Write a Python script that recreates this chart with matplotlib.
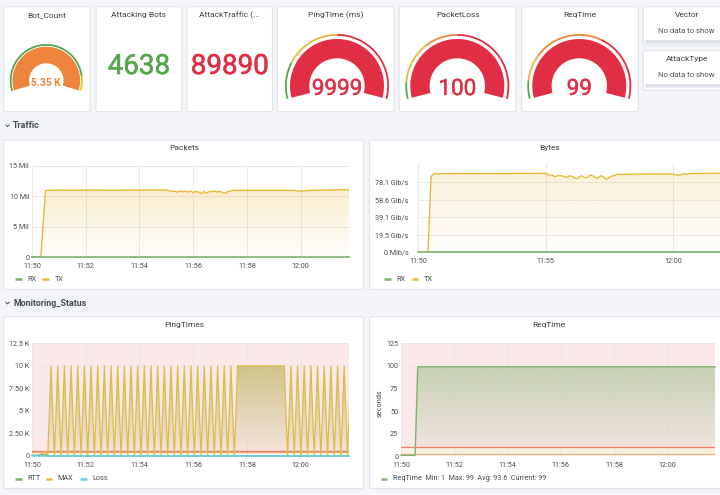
import numpy as np
import matplotlib
matplotlib.use('Agg')
import matplotlib.pyplot as plt
import matplotlib.patheffects as pe
from matplotlib.patches import Polygon, FancyBboxPatch
from matplotlib.colors import to_rgb

plt.rcParams['font.family'] = ['Roboto', 'DejaVu Sans']

# ---------------- data ----------------
top_titles = ['Bot_Count', 'Attacking Bots', 'AttackTraffic (...', 'PingTime (ms)', 'PacketLoss', 'ReqTime']
bot_count_label = '5.35 K'
attacking_bots = '4638'
attack_traffic = '89890'
gauge_labels = ['9999', '100', '99']
side_titles = ['Vector', 'AttackType']
no_data = 'No data to show'

# gauge threshold steps (fraction of gauge range) and colours
bot_steps = [0.89]
bot_step_colors = ['#56a64b', '#f2cc0c']
gauge_steps = [[0.2, 0.5], [0.09, 0.32, 0.5], [0.1, 0.24, 0.62]]
gauge_step_colors = [['#56a64b', '#eab839', '#e02f44'],
                     ['#56a64b', '#eab839', '#ef843c', '#e02f44'],
                     ['#56a64b', '#eab839', '#ef843c', '#e02f44']]

time_ticks = [0, 2, 4, 6, 8, 10]
time_labels = ['11:50', '11:52', '11:54', '11:56', '11:58', '12:00']
bytes_ticks = [0, 5, 10]
bytes_labels = ['11:50', '11:55', '12:00']

# Packets (minutes after 11:50, millions)
packets_t = [0, 0.33, 0.5, 0.6, 1.0, 1.5, 2.0, 2.5, 3.0, 3.5, 4.0, 4.5, 5.0,
             5.1, 5.2, 5.3, 5.4, 5.5, 5.6, 5.7, 5.8, 5.9, 6.0, 6.1, 6.2, 6.3,
             6.4, 6.5, 6.6, 6.7, 6.8, 6.9, 7.0, 7.1, 7.2, 7.3, 7.4, 7.5, 7.6,
             8.0, 8.5, 9.0, 9.5, 9.8, 10.0, 10.2, 10.5, 11.0, 11.5, 11.8]
packets_tx = [0, 0, 10.9, 11.0, 11.02, 11.0, 11.03, 11.02, 11.0, 11.02, 11.03, 11.03, 11.05,
              10.9, 10.8, 10.85, 10.7, 10.85, 10.75, 10.9, 10.7, 10.85, 10.65, 10.8, 10.7, 10.45,
              10.8, 10.5, 10.85, 10.75, 10.9, 10.7, 10.85, 10.6, 10.5, 10.8, 10.9, 11.0, 11.0,
              11.0, 10.98, 11.0, 11.0, 10.95, 10.85, 10.95, 11.0, 11.02, 11.08, 11.05]
packets_rx_t = [0, 11.8]
packets_rx = [0, 0]
packets_yticks = [0, 5, 10, 15]
packets_ylabels = ['0', '5 Mil', '10 Mil', '15 Mil']

# Bytes (Gib/s)
bytes_t = [0, 0.38, 0.5, 0.6, 1.0, 2.0, 3.0, 4.0, 5.0,
           5.05, 5.16, 5.26, 5.36, 5.49, 5.62, 5.72, 5.82, 5.92, 6.01,
           6.11, 6.21, 6.31, 6.41, 6.5, 6.6, 6.7, 6.8, 6.9, 7.0,
           7.1, 7.2, 7.3, 7.39, 7.49, 7.59, 7.69, 7.79,
           8.0, 9.0, 10.0, 10.2, 10.4, 11.0, 11.84]
bytes_tx = [0, 0, 84.0, 87.0, 87.2, 87.4, 87.3, 87.5, 87.6,
            87.3, 85.0, 85.6, 83.9, 85.2, 85.0, 84.2, 83.2, 84.6, 84.7,
            83.0, 81.4, 83.5, 85.0, 83.4, 82.5, 84.8, 85.8, 83.6, 81.8,
            83.9, 85.0, 82.8, 81.0, 83.2, 84.7, 85.0, 86.5,
            86.6, 86.8, 86.9, 85.4, 87.0, 87.5, 87.7]
bytes_rx_t = [0, 11.84]
bytes_rx = [0, 0]
bytes_yticks = [0, 19.53, 39.06, 58.59, 78.125]
bytes_ylabels = ['0 Mib/s', '19.5 Gib/s', '39.1 Gib/s', '58.6 Gib/s', '78.1 Gib/s']

# PingTimes (ms), MAX sampled every 0.124 min from 11:50:05
ping_start = 0.09
ping_step = 0.124
ping_max = [0, 0, 200, 500, 0,
            9999, 0, 9999, 0, 9999, 0, 9999, 0, 9999, 0, 9999, 0, 9999, 0, 9999, 0,
            9999, 0, 9999, 0, 9999, 0, 9999, 0, 9999, 0, 9999, 0, 9999, 0, 9999, 0,
            9999, 0, 9999, 0, 9999, 0, 9999, 0, 9999, 0, 9999, 0, 9999, 0, 9999, 0,
            9999, 0, 9999, 0, 9999, 0, 9999, 0,
            9999, 9999, 9999, 9999, 9999, 9999, 9999, 9999, 9999, 9999, 9999, 9999, 9999, 9999, 9999,
            0,
            9999, 0, 9999, 0, 9999, 0, 9999, 0, 9999, 0, 9999, 0, 9999, 0, 9999, 0, 9999, 0, 9999]
ping_rtt_t = [0, 0.2, 0.45, 0.6, 11.8]
ping_rtt = [60, 80, 150, 0, 0]
ping_loss_t = [0, 11.8]
ping_loss = [0, 0]
ping_yticks = [0, 2500, 5000, 7500, 10000, 12500]
ping_ylabels = ['0', '2.50 K', '5 K', '7.50 K', '10 K', '12.5 K']
ping_crit = 500
ping_warn = 420

# ReqTime (seconds)
req_t = [0, 0.53, 0.63, 11.8]
req_v = [1, 1, 99, 99]
req_yticks = [0, 25, 50, 75, 100, 125]
req_crit = 10
req_warn = 3
req_legend = 'ReqTime  Min: 1  Max: 99  Avg: 93.6  Current: 99'

# ---------------- style ----------------
W, H = 720, 495
BG = '#f4f5f8'
TXT = '#464c54'
TITLE_C = '#3b3f45'
GREEN = '#7eb26d'
YELLOW = '#eab839'
CYAN = '#6ed0e0'
TITLE_FS = 6.0
TICK_FS = 5.2

fig = plt.figure(figsize=(W / 100, H / 100), dpi=100, facecolor=BG)
bg = fig.add_axes([0, 0, 1, 1])
bg.set_xlim(0, W)
bg.set_ylim(H, 0)
bg.axis('off')


def heavy(color, w):
    # thicken regular Roboto a little (medium weight look)
    return [pe.withStroke(linewidth=w, foreground=color)]


def panel(x0, y0, x1, y1):
    bg.add_patch(FancyBboxPatch((x0, y0), x1 - x0, y1 - y0,
                                boxstyle='round,pad=0,rounding_size=2',
                                fc='white', ec='#e1e4e9', lw=0.8))


def arc(cx, cy, r0, r1, a0, a1, color):
    a = np.radians(np.linspace(a0, a1, 90))
    outer = np.column_stack([cx + r1 * np.cos(a), cy - r1 * np.sin(a)])
    inner = np.column_stack([cx + r0 * np.cos(a[::-1]), cy - r0 * np.sin(a[::-1])])
    bg.add_patch(Polygon(np.vstack([outer, inner]), closed=True, fc=color, ec='none'))


def gauge(cx, cy, ring, band, half, steps, colors, band_color):
    a_start = 180 + half
    span = 180 + 2 * half
    edges = [0] + steps + [1]
    for i, c in enumerate(colors):
        arc(cx, cy, ring[0], ring[1], a_start - span * edges[i], a_start - span * edges[i + 1], c)
    arc(cx, cy, band[0], band[1], a_start, a_start - span, band_color)


def legend_item(x, y, color, label):
    bg.plot([x, x + 6.7], [y, y], color=color, lw=1.8, solid_capstyle='butt')
    bg.text(x + 12, y, label, ha='left', va='center', fontsize=TICK_FS, color=TXT)


def title(x, y, t):
    bg.text(x, y, t, ha='center', va='center', fontsize=TITLE_FS, color=TITLE_C)


def chart_axes(x0, y0, x1, y1):
    return fig.add_axes([x0 / W, 1 - y1 / H, (x1 - x0) / W, (y1 - y0) / H])


def style(ax, xlim, ylim, xticks, xlabels, yticks, ylabels, ypad=2):
    ax.set_facecolor('none')
    ax.set_xlim(*xlim)
    ax.set_ylim(*ylim)
    ax.set_xticks(xticks)
    ax.set_xticklabels(xlabels)
    ax.set_yticks(yticks)
    ax.set_yticklabels(ylabels)
    for s in ax.spines.values():
        s.set_visible(False)
    ax.grid(True, color='#e9e9e9', lw=0.7)
    ax.set_axisbelow(True)
    ax.tick_params(axis='x', length=0, labelsize=TICK_FS, colors=TXT, pad=4)
    ax.tick_params(axis='y', length=0, labelsize=TICK_FS, colors=TXT, pad=ypad)


def grad_fill(ax, x, y, color, a_top, a_bot, ytop, z=1):
    x = np.asarray(x, float)
    y = np.asarray(y, float)
    verts = np.vstack([np.column_stack([x, y]), [[x[-1], 0], [x[0], 0]]])
    clip = Polygon(verts, closed=True, fc='none', ec='none')
    ax.add_patch(clip)
    img = np.zeros((100, 1, 4))
    img[:, :, :3] = to_rgb(color)
    img[:, 0, 3] = np.linspace(a_bot, a_top, 100)
    im = ax.imshow(img, aspect='auto', origin='lower', extent=[x.min(), x.max(), 0, ytop], zorder=z)
    im.set_clip_path(clip)


# ---------------- top row ----------------
panel(3.7, 6.7, 90, 111.7)
panel(96, 6.7, 181.7, 111.7)
panel(187, 6.7, 272.5, 111.7)
panel(277.3, 6.7, 394, 111.7)
panel(399.3, 6.7, 516, 111.7)
panel(521.7, 6.7, 638.3, 111.7)
panel(643.3, 6.7, 735, 45)
panel(643.3, 50.7, 735, 90)

title_x = [46.8, 138.8, 229.7, 335.7, 457.7, 580]
for tx, t in zip(title_x, top_titles):
    title(tx, 15, t)

gauge(46.3, 80.5, (34.7, 36.5), (17.2, 33.8), 17, bot_steps, bot_step_colors, '#ef843c')
bg.text(46.3, 82.5, bot_count_label, ha='center', va='center', fontsize=7.4,
        color='#ef843c', fontweight='bold')

bg.text(138.8, 66.5, attacking_bots, ha='center', va='center', fontsize=20,
        color='#56a64b', path_effects=heavy('#56a64b', 0.4))
bg.text(229.7, 66.5, attack_traffic, ha='center', va='center', fontsize=20,
        color='#e02f44', path_effects=heavy('#e02f44', 0.4))

gauge_cx = [337, 457.3, 579.3]
for cx, lab, st, cols in zip(gauge_cx, gauge_labels, gauge_steps, gauge_step_colors):
    gauge(cx, 86, (50.2, 52), (27.7, 47), 14.5, st, cols, '#e02f44')
    bg.text(cx, 89.5, lab, ha='center', va='center', fontsize=16.2, color='#e02f44',
            path_effects=heavy('#e02f44', 0.3))

for y0, t in zip([6.7, 50.7], side_titles):
    title(686.7, y0 + 8.5, t)
    bg.text(686.7, y0 + 24.5, no_data, ha='center', va='center', fontsize=5.6, color='#52545c')
    bg.add_patch(FancyBboxPatch((645, y0 + 33.3), 90, 3.5, boxstyle='round,pad=0,rounding_size=1.5',
                                fc='#dde0e6', ec='none'))

# ---------------- section headers ----------------
for y, t in [(126, 'Traffic'), (303.3, 'Monitoring_Status')]:
    bg.plot([6, 7.5, 9], [y - 1, y + 0.6, y - 1], color=TXT, lw=0.7)
    bg.text(13, y, t, ha='left', va='center', fontsize=6.4, color=TXT, fontweight='bold')

# ---------------- Traffic ----------------
panel(3.7, 140, 363.5, 289.5)
panel(369.5, 140, 735, 289.5)
title(184, 148, 'Packets')
title(549.3, 148, 'Bytes')

ax1 = chart_axes(32, 166, 349, 257)
grad_fill(ax1, packets_t, packets_tx, YELLOW, 0.32, 0.02, 15)
ax1.plot(packets_t, packets_tx, color=YELLOW, lw=1, zorder=3)
ax1.plot(packets_rx_t, packets_rx, color=GREEN, lw=1.2, zorder=3, clip_on=False)
style(ax1, (0, 11.8), (0, 15), time_ticks, time_labels, packets_yticks, packets_ylabels)
legend_item(15, 279.3, GREEN, 'RX')
legend_item(42.3, 279.3, YELLOW, 'TX')

ax2 = chart_axes(418.3, 164.3, 720, 252.3)
grad_fill(ax2, bytes_t, bytes_tx, YELLOW, 0.2, 0.02, 97.66)
ax2.plot(bytes_t, bytes_tx, color=YELLOW, lw=1, zorder=3)
ax2.plot(bytes_rx_t, bytes_rx, color=GREEN, lw=1.2, zorder=3, clip_on=False)
style(ax2, (0, 11.84), (0, 97.66), bytes_ticks, bytes_labels, bytes_yticks, bytes_ylabels, ypad=7)
legend_item(384, 279.3, GREEN, 'RX')
legend_item(411.7, 279.3, YELLOW, 'TX')

# ---------------- Monitoring_Status ----------------
panel(3.7, 316.7, 363.5, 488.5)
panel(369.5, 316.7, 735, 488.5)
title(184, 325, 'PingTimes')
title(549.3, 325, 'ReqTime')

ax3 = chart_axes(32, 343.3, 349, 456)
ping_t = ping_start + ping_step * np.arange(len(ping_max))
ax3.axhspan(ping_crit, 12500, color='#ea7070', alpha=0.16, lw=0, zorder=0.5)
ax3.axhspan(ping_warn, ping_crit, color='#eb8a0e', alpha=0.1, lw=0, zorder=0.5)
grad_fill(ax3, ping_t, ping_max, '#bfb462', 0.7, 0.08, 10000)
ax3.plot(ping_t, ping_max, color='#dcbd4a', lw=0.9, zorder=3)
ax3.axhline(ping_crit, color='#ed2e18', alpha=0.6, lw=0.9, zorder=2)
ax3.axhline(ping_warn, color='#ed8128', alpha=0.6, lw=0.9, zorder=2)
ax3.plot(ping_rtt_t, ping_rtt, color=GREEN, lw=1.1, zorder=3, clip_on=False)
ax3.plot(ping_loss_t, ping_loss, color=CYAN, lw=1.1, zorder=3, clip_on=False)
style(ax3, (0, 11.8), (0, 12500), time_ticks, time_labels, ping_yticks, ping_ylabels)
legend_item(15, 479, GREEN, 'RTT')
legend_item(45.7, 479, YELLOW, 'MAX')
legend_item(80, 479, CYAN, 'Loss')

ax4 = chart_axes(401, 343.3, 715, 456.3)
ax4.axhspan(req_crit, 125, color='#ea7070', alpha=0.16, lw=0, zorder=0.5)
ax4.axhspan(req_warn, req_crit, color='#eb8a0e', alpha=0.1, lw=0, zorder=0.5)
grad_fill(ax4, req_t, req_v, GREEN, 0.42, 0.05, 99)
ax4.plot(req_t, req_v, color=GREEN, lw=1, zorder=3, clip_on=False)
ax4.axhline(req_crit, color='#ed2e18', alpha=0.6, lw=0.9, zorder=2)
ax4.axhline(req_warn, color='#ed8128', alpha=0.6, lw=0.9, zorder=2)
style(ax4, (0, 11.8), (0, 125), time_ticks, time_labels, req_yticks, [str(v) for v in req_yticks])
bg.text(380, 403, 'seconds', rotation=90, ha='center', va='center', fontsize=TICK_FS, color=TXT)
legend_item(380.7, 479, GREEN, req_legend)

fig.savefig('out.png', dpi=100, facecolor=BG)
